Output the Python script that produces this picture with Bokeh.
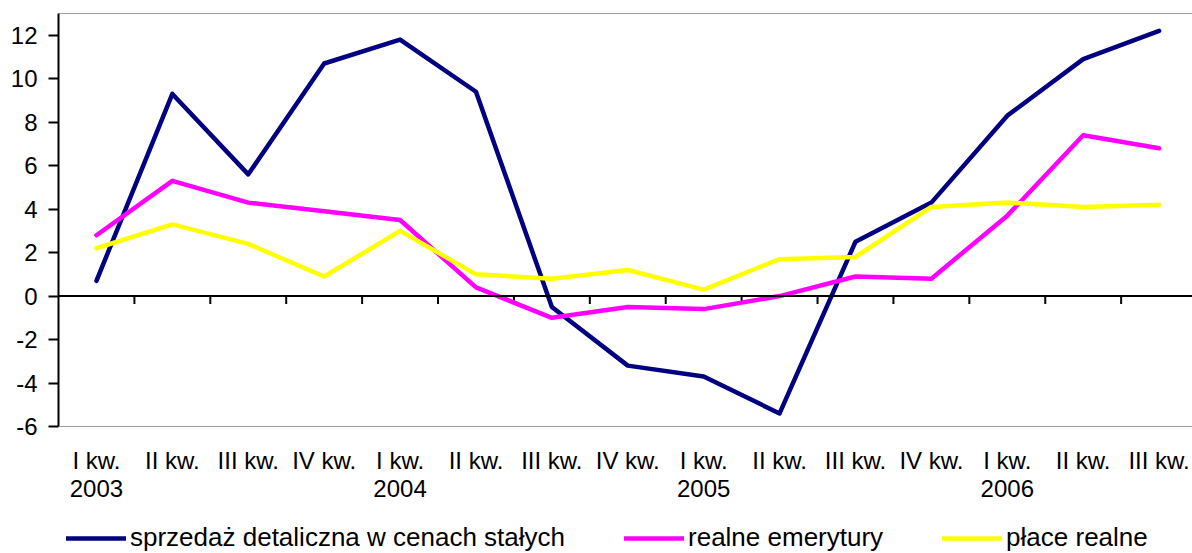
from bokeh.plotting import figure
from bokeh.layouts import column
from bokeh.models import (Range1d, LinearAxis, FixedTicker, Legend, LegendItem, Span)
from bokeh.embed import file_html
from bokeh.resources import INLINE

quarters = ["I kw.", "II kw.", "III kw.", "IV kw.",
            "I kw.", "II kw.", "III kw.", "IV kw.",
            "I kw.", "II kw.", "III kw.", "IV kw.",
            "I kw.", "II kw.", "III kw."]
years = ["2003", "", "", "", "2004", "", "", "", "2005", "", "", "", "2006", "", ""]

sprzedaz = [0.7, 9.3, 5.6, 10.7, 11.8, 9.4, -0.5, -3.2, -3.7, -5.4, 2.5, 4.3, 8.3, 10.9, 12.2]
emerytury = [2.8, 5.3, 4.3, 3.9, 3.5, 0.4, -1.0, -0.5, -0.6, 0.0, 0.9, 0.8, 3.7, 7.4, 6.8]
place = [2.2, 3.3, 2.4, 0.9, 3.0, 1.0, 0.8, 1.2, 0.3, 1.7, 1.8, 4.1, 4.3, 4.1, 4.2]

series_names = ["sprzedaż detaliczna w cenach stałych", "realne emerytury", "płace realne"]
series_colors = ["#000080", "#FF00FF", "#FFFF00"]

y_ticks = [-6, -4, -2, 0, 2, 4, 6, 8, 10, 12]
y_tick_labels = ["-6", "-4", "-2", "0", "2", "4", "6", "8", "10", "12"]

FONT = "Liberation Sans"
Y_MIN, Y_MAX = -6, 13
W = 1192
MAIN_H = 510
LEG_H = 43
LEFT, TOP, BOTTOM_Y = 58, 13, 426
FRAME_H = BOTTOM_Y - TOP
LINE_W = 4.5

x = list(range(len(quarters)))
all_series = [sprzedaz, emerytury, place]

p = figure(width=W, height=MAIN_H, output_backend="svg", toolbar_location=None,
           x_range=Range1d(-0.5, 14.44), y_range=Range1d(Y_MIN, Y_MAX),
           min_border_left=LEFT, min_border_right=0, min_border_top=TOP,
           min_border_bottom=MAIN_H - BOTTOM_Y,
           x_axis_location=None, y_axis_location=None)
p.grid.visible = False
p.outline_line_color = None
p.background_fill_color = "white"
p.border_fill_color = "white"

# frame top / bottom border lines
p.add_layout(Span(location=Y_MAX, dimension="width", line_color="#404040", line_width=1))
p.add_layout(Span(location=Y_MIN, dimension="width", line_color="#404040", line_width=1))

# category axis line at zero with boundary tick marks
p.add_layout(Span(location=0, dimension="width", line_color="black", line_width=2))
boundaries = [i + 0.5 for i in x[:-1]]
tick_len = 8 * (Y_MAX - Y_MIN) / FRAME_H
p.segment(x0=boundaries, x1=boundaries, y0=[0] * len(boundaries), y1=[-tick_len] * len(boundaries),
          line_color="black", line_width=2)

for vals, col in zip(all_series, series_colors):
    p.line(x, vals, line_color=col, line_width=LINE_W, line_join="round", line_cap="round")

# y axis
yaxis = LinearAxis(ticker=FixedTicker(ticks=y_ticks),
                   major_label_overrides={t: l for t, l in zip(y_ticks, y_tick_labels)},
                   axis_line_width=2, axis_line_color="black",
                   major_tick_out=10, major_tick_in=0, major_tick_line_width=2,
                   major_tick_line_color="black",
                   minor_tick_out=0, minor_tick_in=0,
                   major_label_standoff=11,
                   major_label_text_font=FONT, major_label_text_font_size="24px",
                   major_label_text_color="black")
p.add_layout(yaxis, "left")

# quarter labels
xaxis_q = LinearAxis(ticker=FixedTicker(ticks=x),
                     major_label_overrides={i: q for i, q in zip(x, quarters)},
                     axis_line_color=None, major_tick_line_color=None,
                     major_tick_out=0, major_tick_in=0, minor_tick_out=0, minor_tick_in=0,
                     major_label_standoff=20,
                     major_label_text_font=FONT, major_label_text_font_size="24px",
                     major_label_text_color="black")
p.add_layout(xaxis_q, "below")

# year labels
year_pos = [i for i, yv in enumerate(years) if yv]
xaxis_y = LinearAxis(ticker=FixedTicker(ticks=year_pos),
                     major_label_overrides={i: years[i] for i in year_pos},
                     axis_line_color=None, major_tick_line_color=None,
                     major_tick_out=0, major_tick_in=0, minor_tick_out=0, minor_tick_in=0,
                     major_label_standoff=3,
                     major_label_text_font=FONT, major_label_text_font_size="24px",
                     major_label_text_color="black")
p.add_layout(xaxis_y, "below")

# legend strip below the chart (its series sit outside its own view; only the key is shown)
pl = figure(width=W, height=LEG_H, output_backend="svg", toolbar_location=None,
            x_range=Range1d(100, 101), y_range=Range1d(100, 101), min_border=0,
            x_axis_location=None, y_axis_location=None)
pl.grid.visible = False
pl.outline_line_color = None
pl.border_fill_color = "white"
pl.background_fill_color = "white"
leg_renderers = [pl.line(x, vals, line_color=col, line_width=LINE_W, line_cap="round")
                 for vals, col in zip(all_series, series_colors)]
legend = Legend(items=[LegendItem(label=n, renderers=[r]) for n, r in zip(series_names, leg_renderers)],
                orientation="horizontal", location=(66 - LEFT, 0),
                glyph_width=60, glyph_height=26, label_height=30, label_standoff=4, spacing=59,
                padding=0, margin=0, border_line_color=None, background_fill_color=None,
                label_text_font=FONT, label_text_font_size="26px", label_text_color="black")
pl.add_layout(legend, "center")

layout = column(p, pl, spacing=0)
open("out.html", "w").write(file_html(layout, INLINE))
